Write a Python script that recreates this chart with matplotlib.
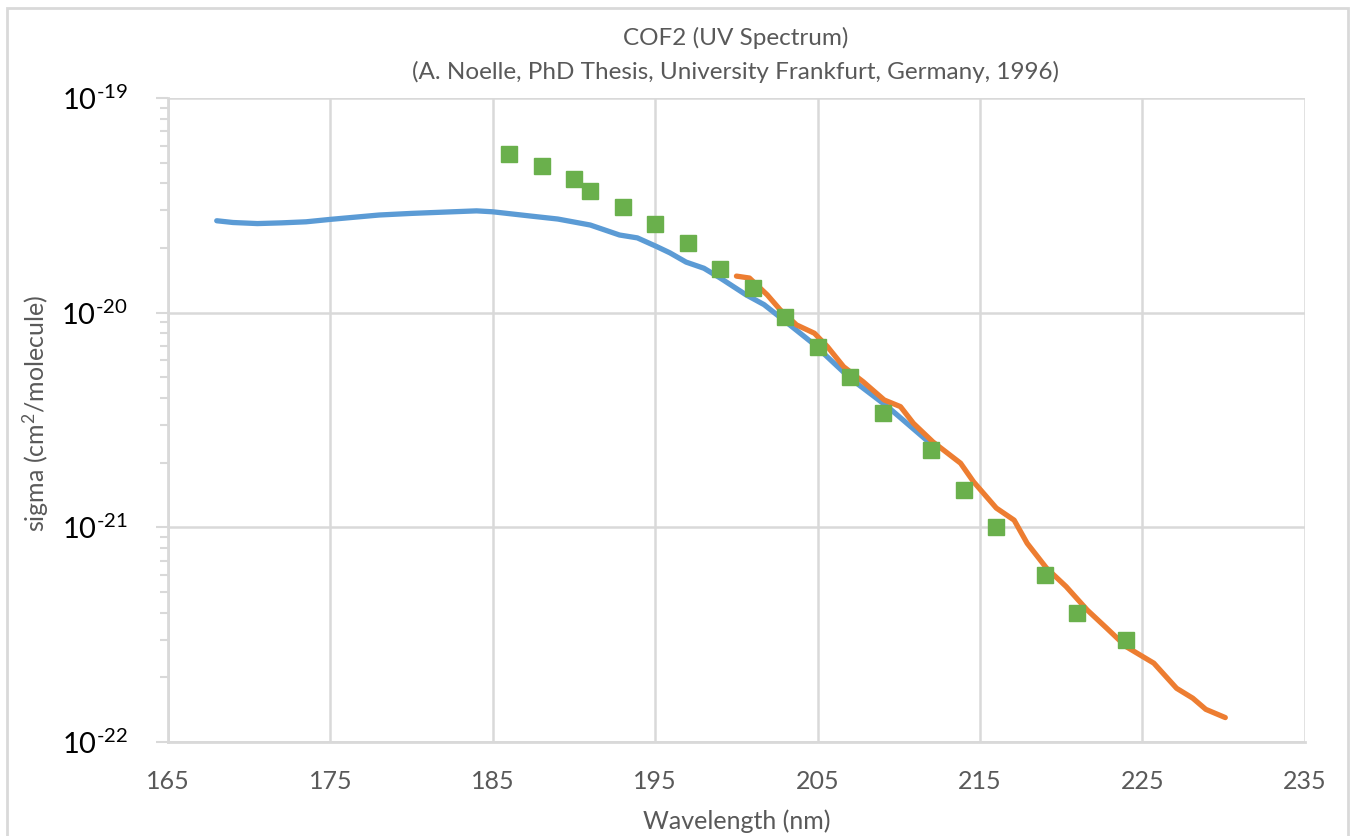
import numpy as np
import matplotlib
matplotlib.use('Agg')
import matplotlib.pyplot as plt
from matplotlib.patches import Rectangle
from matplotlib.ticker import LogLocator, NullFormatter

plt.rcParams['font.family'] = ['Lato', 'DejaVu Sans']
plt.rcParams['mathtext.fontset'] = 'custom'
plt.rcParams['mathtext.rm'] = 'Lato'
plt.rcParams['mathtext.it'] = 'Lato:italic'

# blue series (smooth line)
blueWl = [168, 169, 170.5, 172, 173.5, 175, 178, 180, 182, 184, 185, 187.3, 189, 191,
          192.8, 193.9, 195.1, 195.9, 196.9, 198, 199, 200.6, 201.7, 202.9, 204.7,
          207, 209.3, 211.7, 212.1]
blueSigma = [2.68e-20, 2.63e-20, 2.60e-20, 2.62e-20, 2.65e-20, 2.72e-20, 2.85e-20,
             2.90e-20, 2.94e-20, 2.98e-20, 2.95e-20, 2.82e-20, 2.73e-20, 2.56e-20,
             2.30e-20, 2.23e-20, 2.03e-20, 1.90e-20, 1.72e-20, 1.61e-20, 1.45e-20,
             1.21e-20, 1.09e-20, 9.25e-21, 7.2e-21, 4.95e-21, 3.65e-21, 2.55e-21, 2.42e-21]

# orange series (smooth line)
orangeWl = [200.0, 200.8, 201.9, 202.7, 203.7, 204.8, 205.6, 206.6, 207.8, 209.1,
            210.1, 210.9, 212.1, 213.8, 214.6, 216.0, 217.1, 217.9, 219.1, 220.3,
            221.6, 222.8, 224.0, 225.7, 227.1, 228.1, 228.9, 230.1]
orangeSigma = [1.48e-20, 1.45e-20, 1.21e-20, 1.03e-20, 8.77e-21, 8.02e-21, 6.95e-21,
               5.6e-21, 4.77e-21, 3.92e-21, 3.65e-21, 3.05e-21, 2.50e-21, 1.99e-21,
               1.63e-21, 1.23e-21, 1.08e-21, 8.43e-22, 6.45e-22, 5.3e-22, 4.12e-22,
               3.39e-22, 2.78e-22, 2.33e-22, 1.78e-22, 1.60e-22, 1.42e-22, 1.30e-22]

# green series (square markers)
greenWl = [186, 188, 190, 191, 193, 195, 197, 199, 201, 203, 205, 207, 209, 212, 214,
           216, 219, 221, 224]
greenSigma = [5.5e-20, 4.8e-20, 4.2e-20, 3.7e-20, 3.1e-20, 2.6e-20, 2.1e-20, 1.6e-20,
              1.3e-20, 9.5e-21, 6.9e-21, 5.0e-21, 3.4e-21, 2.3e-21, 1.5e-21, 1.0e-21,
              6.0e-22, 4.0e-22, 3.0e-22]

xTicks = [165, 175, 185, 195, 205, 215, 225, 235]
yTicks = [1e-22, 1e-21, 1e-20, 1e-19]
yTickLabels = [r'$10^{\text{-22}}$', r'$10^{\text{-21}}$', r'$10^{\text{-20}}$', r'$10^{\text{-19}}$']

GRID = '#d9d9d9'
TEXT = '#595959'

fig = plt.figure(figsize=(13.55, 8.36), dpi=100)
fig.patches.append(Rectangle((0.005, -0.01), 0.99, 1.0, transform=fig.transFigure,
                             fill=False, edgecolor=GRID, linewidth=2))
ax = fig.add_axes([0.124, 0.1124, 0.839, 0.7704])

ax.plot(blueWl, blueSigma, color='#5B9BD5', linewidth=3.8, solid_capstyle='round',
        solid_joinstyle='round', zorder=3)
ax.plot(orangeWl, orangeSigma, color='#ED7D31', linewidth=3.8, solid_capstyle='round',
        solid_joinstyle='round', zorder=4)
ax.plot(greenWl, greenSigma, linestyle='none', marker='s', markersize=12,
        color='#6AB04C', markeredgecolor='#6AB04C', zorder=5)

ax.set_yscale('log')
ax.set_xlim(165, 235)
ax.set_ylim(1e-22, 1e-19)
ax.set_xticks(xTicks)
ax.set_xticklabels([str(t) for t in xTicks])
ax.set_yticks(yTicks)
ax.set_yticklabels(yTickLabels)
ax.yaxis.set_minor_locator(LogLocator(base=10, subs=np.arange(2, 10)))
ax.yaxis.set_minor_formatter(NullFormatter())

ax.grid(True, which='major', color=GRID, linewidth=1.8, zorder=0)
ax.set_axisbelow(True)
for side in ['top', 'right']:
    ax.spines[side].set_visible(False)
for side in ['left', 'bottom']:
    ax.spines[side].set_color(GRID)
    ax.spines[side].set_linewidth(2)

ax.tick_params(axis='x', length=0, pad=20, labelsize=18, labelcolor=TEXT)
ax.tick_params(axis='y', which='major', length=9, width=1.5, color=GRID, pad=20,
               labelsize=21, labelcolor='black')
ax.tick_params(axis='y', which='minor', length=6, width=1.5, color=GRID)

ax.set_xlabel('Wavelength (nm)', fontsize=18, color=TEXT, labelpad=12)
ax.set_ylabel('sigma (cm$^2$/molecule)', fontsize=18, color=TEXT)
ax.yaxis.set_label_coords(-0.103, 0.51)

fig.text(0.543, 0.955, 'COF2 (UV Spectrum)', ha='center', va='center', fontsize=17.5, color=TEXT)
fig.text(0.543, 0.914, '(A. Noelle, PhD Thesis, University Frankfurt, Germany, 1996)',
         ha='center', va='center', fontsize=17.5, color=TEXT)

fig.savefig('out.png', dpi=100)
